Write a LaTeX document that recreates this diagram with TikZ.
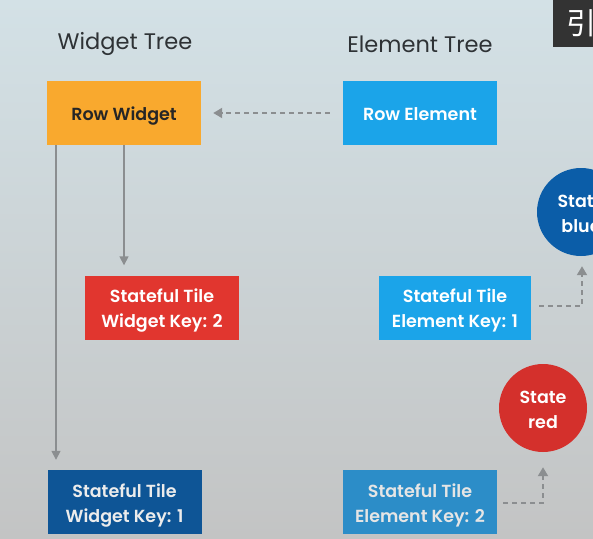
\documentclass[tikz,border=0pt]{standalone}
\usepackage{fontspec}
\setmainfont{Poppins}[BoldFont={Poppins SemiBold}]
\newfontfamily\cjkfont{Noto Sans CJK SC}
\usetikzlibrary{arrows.meta}
\definecolor{bgtop}{HTML}{D3E1E6}
\definecolor{bgbot}{HTML}{C3C4C4}
\definecolor{orangebox}{HTML}{F9A92E}
\definecolor{skybox}{HTML}{1BA4E9}
\definecolor{redbox}{HTML}{E1362F}
\definecolor{navybox}{HTML}{0E5596}
\definecolor{steelbox}{HTML}{2C8DC8}
\definecolor{statered}{HTML}{D4302C}
\definecolor{stateblue}{HTML}{0B5DA8}
\definecolor{linkgray}{HTML}{8B8E90}
\definecolor{titletext}{HTML}{2E3235}
% centred label lines; zero-size box so the lines can sit a little low
\newcommand{\boxlabel}[1]{\raisebox{-7pt}[0pt][0pt]{\begin{tabular}{@{}c@{}}#1\end{tabular}}}
\tikzset{
  treebox/.style={rectangle, minimum width=154pt, minimum height=64pt, inner sep=0pt,
    font=\fontsize{17.5}{25}\selectfont\bfseries, text=white},
  statecircle/.style={circle, minimum size=88pt, inner sep=0pt,
    font=\fontsize{17.5}{25}\selectfont\bfseries, text=white},
  title/.style={font=\fontsize{22.5}{26}\selectfont, text=titletext},
  solidlink/.style={draw=linkgray, line width=1.6pt, -{Triangle[length=9pt,width=9pt]}},
  dashlink/.style={draw=linkgray, line width=2pt, dash pattern=on 5pt off 4pt,
    -{Triangle[length=9pt,width=10pt]}},
}
\begin{document}
\begin{tikzpicture}[x=1pt,y=-1pt]
  \useasboundingbox (0,0) rectangle (593,538);
  \begin{scope}
    \clip (0,0) rectangle (593,538);
    % backdrop
    \shade[top color=bgtop, bottom color=bgbot] (0,0) rectangle (593,538);

    % column headings
    \node[title] (wt) at (125,44) {Widget Tree};
    \node[title] (et) at (420,44) {Element Tree};

    % widget column
    \node[treebox, fill=orangebox, text=black!85] (rw) at (124,113) {\boxlabel{Row Widget}};
    \node[treebox, fill=redbox] (sw2) at (162,307.5) {\boxlabel{Stateful Tile\\Widget Key: 2}};
    \node[treebox, fill=navybox, text=white!85!gray] (sw1) at (124.5,502) {\boxlabel{Stateful Tile\\Widget Key: 1}};

    % element column
    \node[treebox, fill=skybox] (re) at (420,113) {\boxlabel{Row Element}};
    \node[treebox, fill=skybox, minimum width=152pt] (se1) at (455,307.5) {\boxlabel{Stateful Tile\\Element Key: 1}};
    \node[treebox, fill=steelbox, text=white!80!gray] (se2) at (420,502) {\boxlabel{Stateful Tile\\Element Key: 2}};

    % state objects
    \node[statecircle, fill=stateblue] (sb) at (581,212) {\boxlabel{State\\blue}};
    \node[statecircle, fill=statered] (sr) at (543,408) {\boxlabel{State\\red}};

    % widget tree links
    \draw[solidlink] (rw.south -| 56,0) -- ([yshift=10pt]sw1.north -| 56,0);
    \draw[solidlink] (rw.south -| 124,0) -- ([yshift=10pt]sw2.north -| 124,0);

    % element to widget reference
    \draw[dashlink] ([xshift=-13pt]re.west) -- ([xshift=12pt]rw.east);

    % element to state references
    \coordinate (b1) at (582,306);
    \coordinate (b2) at (543,503);
    \draw[dashlink] ([xshift=8pt]se1.east |- b1) -- (b1) -- ([yshift=-10pt]sb.south -| b1);
    \draw[dashlink] ([xshift=6pt]se2.east |- b2) -- (b2) -- ([yshift=-15pt]sr.south);

    % caption tab
    \node[fill=black!80, minimum width=44pt, minimum height=47pt, inner sep=0pt,
      anchor=north west, text=white, font=\cjkfont\fontsize{30}{30}\selectfont] (cap) at (553,0) {\hspace*{12pt}引};
  \end{scope}
\end{tikzpicture}
\end{document}
